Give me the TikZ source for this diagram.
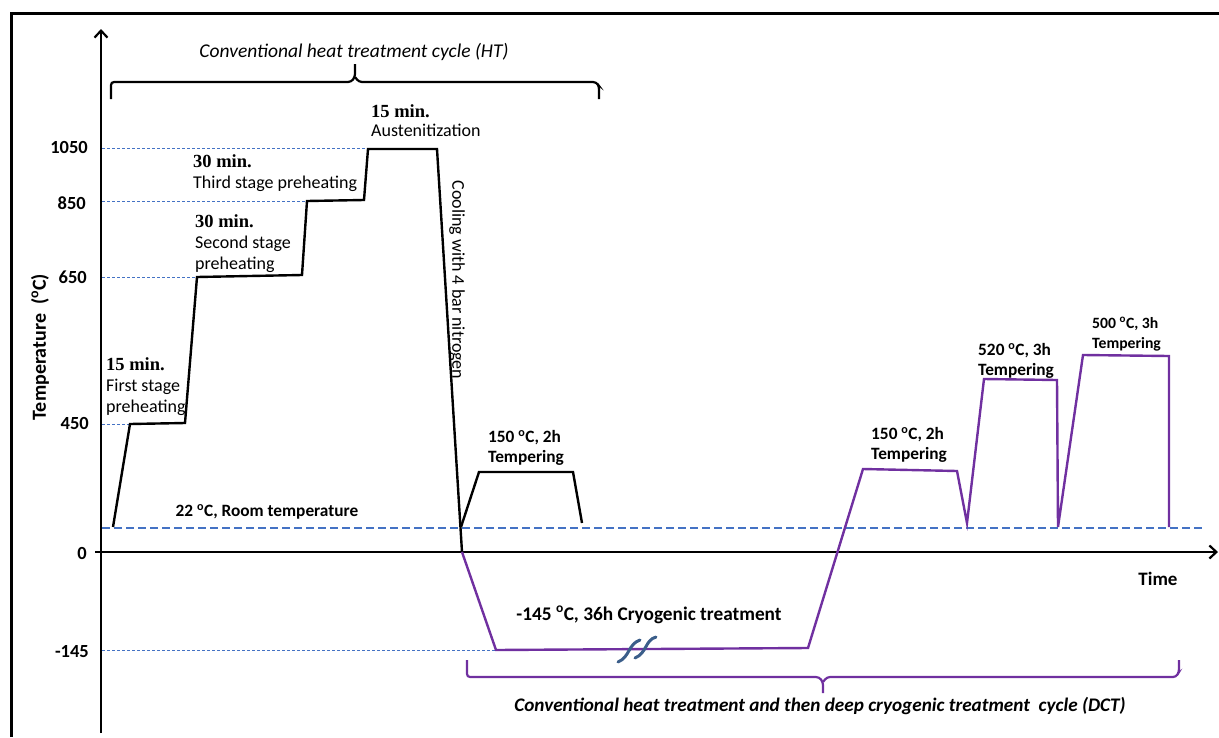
\documentclass[tikz,border=0pt]{standalone}
\usepackage{fontspec}
\setmainfont{Carlito}
\newfontfamily\camb{Liberation Serif}
\usetikzlibrary{arrows.meta}
\definecolor{dctp}{RGB}{112,48,160}
\definecolor{dblue}{RGB}{68,114,196}
\definecolor{brkc}{RGB}{59,94,138}
\newcommand{\degc}{\textsuperscript{o}C}
\newcommand{\tmf}[1]{{\fontsize{18.5}{21}\selectfont\camb\bfseries #1}}
\begin{document}
\begin{tikzpicture}[x=1pt,y=-1pt,
  frame/.style={line width=3pt,black},
  axis/.style={line width=2.4pt,black,-{Straight Barb[length=7pt,width=13pt,line width=2.2pt]}},
  htline/.style={line width=2.4pt,black,line join=miter},
  dctline/.style={line width=2.4pt,dctp,line join=miter},
  guide/.style={dblue,line width=0.9pt,dash pattern=on 3pt off 2pt},
  roomline/.style={dblue,line width=1.8pt,dash pattern=on 8pt off 4pt},
  lbl/.style={inner sep=0pt,font=\fontsize{18}{21}\selectfont,align=left,anchor=north west},
  blbl/.style={lbl,font=\fontsize{17.3}{20}\selectfont\bfseries},
  ylbl/.style={inner sep=0pt,font=\fontsize{18.5}{20}\selectfont\bfseries,anchor=east},
  brkmark/.style={brkc,line width=3pt,line cap=round}]
\useasboundingbox (0,0) rectangle (1219,737);
% frame
\draw[frame] (11,737) -- (11,13) -- (1219,13);
% guide lines
\draw[guide] (102,148) -- (367,148);
\draw[guide] (102,201) -- (307,201);
\draw[guide] (102,277) -- (196,277);
\draw[guide] (102,424) -- (130,424);
\draw[guide] (102,650) -- (496,650);
\draw[roomline] (102,528) -- (1202,528);
% axes
\coordinate (yb) at (101,733);
\coordinate (yt) at (101,29);
\coordinate (xl) at (95,552);
\coordinate (xr) at (1218,552);
\draw[axis] (yb) -- (yt);
\draw[axis] (xl) -- (xr);
% y labels
\node[ylbl] (l1050) at (88,147) {1050};
\node[ylbl] (l850) at (86,203) {850};
\node[ylbl] (l650) at (87,277) {650};
\node[ylbl] (l450) at (89,423) {450};
\node[ylbl] (l0) at (87,553) {0};
\node[ylbl] (l145) at (89,652) {-145};
\node[rotate=90,inner sep=0pt,font=\fontsize{20}{22}\selectfont\bfseries] (ytitle) at (40,347) {Temperature~~(\degc)};
\node[inner sep=0pt,font=\fontsize{19}{22}\selectfont\bfseries] (xtitle) at (1158,579) {Time};
% HT curve
\draw[htline] (113,527) -- (130,424) -- (185,423) -- (197,277) -- (302,275) -- (307,201) -- (364,200) -- (368,149) -- (437,149) -- (462,552);
% HT tempering
\draw[htline] (461,527) -- (479,472) -- (573,472) -- (582,523);
% DCT curve
\draw[dctline] (462,552) -- (496,650) -- (808,648) -- (863,469) -- (957,471) -- (967,523) -- (984,379) -- (1057,380) -- (1058,527) -- (1083,355) -- (1169,356) -- (1169,527);
% break marks
\draw[brkmark] (618,662) .. controls (630,657) and (628,644) .. (640,640);
\draw[brkmark] (635,658) .. controls (647,653) and (645,640) .. (656,637);
% top brace
\draw[line width=2.2pt,rounded corners=3pt] (111,99) -- (111,82) -- (351,82) -- (355,77) -- (355,64);
\draw[line width=2.2pt,rounded corners=3pt] (355,77) -- (359,82) -- (596,82) -- (599,86) -- (599,99);
\node[inner sep=0pt,font=\fontsize{19.5}{22}\selectfont\itshape] (httitle) at (354,52) {Conventional heat treatment cycle (HT)};
% bottom brace
\draw[dctp,line width=2.2pt,rounded corners=3pt] (467,660) -- (467,677) -- (819,677) -- (823,682) -- (823,693);
\draw[dctp,line width=2.2pt,rounded corners=3pt] (823,682) -- (827,677) -- (1176,677) -- (1179,672) -- (1179,660);
\node[inner sep=0pt,font=\fontsize{19.2}{22}\selectfont\bfseries\itshape] (dcttitle) at (820,706) {Conventional heat treatment and then deep cryogenic treatment~~cycle (DCT)};
% stage labels
\node[lbl] (s1) at (106,357) {\tmf{15 min.}\\First stage\\preheating};
\node[lbl] (s2) at (195,214) {\tmf{30 min.}\\Second stage\\preheating};
\node[lbl] (s3) at (193,154) {\tmf{30 min.}\\Third stage preheating};
\node[lbl,font=\fontsize{18}{19.5}\selectfont] (s4) at (371,104) {\tmf{15 min.}\\Austenitization};
\node[rotate=-90,inner sep=0pt,font=\fontsize{18}{20}\selectfont] (cool) at (457,280) {Cooling with 4 bar nitrogen};
% tempering labels
\node[blbl] (t1) at (488,430) {150 \degc, 2h\\Tempering};
\node[blbl] (t2) at (871,427) {150 \degc, 2h\\Tempering};
\node[blbl] (t3) at (978,343) {520 \degc, 3h\\Tempering};
\node[blbl,font=\fontsize{15.7}{20}\selectfont\bfseries] (t4) at (1092,317) {500 \degc, 3h\\Tempering};
\node[inner sep=0pt,font=\fontsize{17.3}{20}\selectfont\bfseries] (room) at (267,512) {22 \degc, Room temperature};
\node[inner sep=0pt,font=\fontsize{19.3}{22}\selectfont\bfseries] (cryo) at (649,615) {-145 \degc, 36h Cryogenic treatment};
\end{tikzpicture}
\end{document}
